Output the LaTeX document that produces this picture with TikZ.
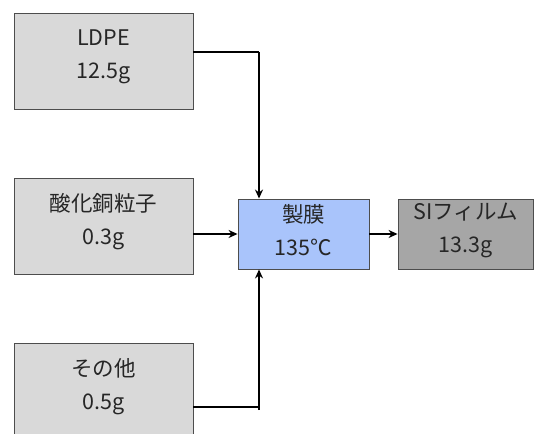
\documentclass[tikz,border=0pt]{standalone}
\usepackage{fontspec}
\setmainfont{Noto Sans CJK JP}
\usetikzlibrary{arrows.meta}
\definecolor{boxgray}{HTML}{D9D9D9}
\definecolor{boxdark}{HTML}{A6A6A6}
\definecolor{boxblue}{HTML}{A9C4FB}
\definecolor{edgegray}{HTML}{4D4D4D}
\definecolor{txt}{HTML}{262626}
\tikzset{
  box/.style={draw=edgegray, line width=0.9pt, inner sep=0pt},
  lbl/.style={align=center, text=txt, font=\fontsize{21.5}{33}\selectfont, inner sep=0pt},
  conn/.style={line width=1.4pt, black},
  arr/.style={conn, -{Stealth[length=9pt,width=8pt]}},
}
\begin{document}
\begin{tikzpicture}[x=1pt,y=1pt]
\clip (0,0) rectangle (534,433);
\fill[white] (0,0) rectangle (534,433);
% boxes
\node[box, fill=boxgray, minimum width=179pt, minimum height=96pt] (ldpe) at (103.5,372) {};
\node[box, fill=boxgray, minimum width=179pt, minimum height=96pt] (cu) at (103.5,207) {};
\node[box, fill=boxgray, minimum width=179pt, minimum height=96pt] (oth) at (103.5,42) {};
\node[box, fill=boxblue, minimum width=131pt, minimum height=70pt] (film) at (303.5,199) {};
\node[box, fill=boxdark, minimum width=135pt, minimum height=70pt] (si) at (465.5,199) {};
% labels
\node[lbl] (ldpeT) at ([yshift=4pt]ldpe.center) {LDPE\\12.5g};
\node[lbl] (cuT) at ([yshift=4pt]cu.center) {酸化銅粒子\\0.3g};
\node[lbl] (othT) at ([yshift=4pt]oth.center) {その他\\0.5g};
\node[lbl] (filmT) at ([yshift=4pt]film.center) {製膜\\135℃};
\node[lbl] (siT) at ([yshift=4pt]si.center) {SIフィルム\\13.3g};
% connectors
\coordinate (j1) at (259,381);
\coordinate (j2) at (259,23);
\coordinate (j3) at (259,26);
\draw[conn] ([yshift=9pt]ldpe.east) -- (j1);
\draw[arr] (j1) -- (j1 |- film.north);
\draw[arr] (cu.east |- film.west) -- (film.west);
\draw[arr] (film.east) -- (si.west);
\draw[conn] (oth.east |- j3) -- (j3);
\draw[arr] (j2) -- (j2 |- film.south);
\end{tikzpicture}
\end{document}
